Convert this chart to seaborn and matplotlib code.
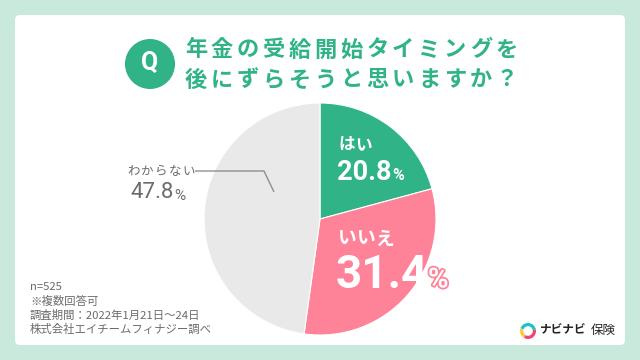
import matplotlib
matplotlib.use("Agg")
import matplotlib.pyplot as plt
from matplotlib import patheffects as pe
from matplotlib.patches import Circle, FancyBboxPatch, Wedge
import seaborn as sns

# === data ===
LABELS = ["はい", "いいえ", "わからない"]
VALUES = [20.8, 31.4, 47.8]
TITLE_LINES = ["年金の受給開始タイミングを", "後にずらそうと思いますか？"]
NOTES = ["n=525", "※複数回答可", "調査期間：2022年1月21日～24日", "株式会社エイチームフィナジー調べ"]
BRAND = "ナビナビ"
BRAND_SUB = "保険"

# === colours ===
GREEN = "#2fb387"
PINK = "#fe8398"
GREY = "#e9e9e9"
BG = "#c9e9dd"
TEXT_GREY = "#6b6b6b"
W, H = 640, 360

sns.set_theme(style="white")
plt.rcParams['font.family'] = ['Noto Sans CJK JP', 'DejaVu Sans']


def spaced(ax, x, y, s, pitch, **kw):
    # letter spaced text, one char at a time
    for i, c in enumerate(s):
        ax.text(x + i * pitch, y, c, ha="center", va="center", **kw)


fig = plt.figure(figsize=(W / 100, H / 100), dpi=100, facecolor=BG)

# pixel coordinate layer for card and texts
bg = fig.add_axes([0, 0, 1, 1], zorder=0)
bg.set_xlim(0, W)
bg.set_ylim(H, 0)
bg.axis("off")
bg.add_patch(FancyBboxPatch((20, 20), 600, 320, boxstyle="round,pad=5,rounding_size=5",
                            fc="white", ec="none"))

# pie
pie_ax = fig.add_axes([204 / W, 1 - 335 / H, 232 / W, 232 / H], zorder=1)
palette = sns.color_palette([GREEN, PINK, GREY])
pie_ax.pie(VALUES, colors=palette, startangle=90, counterclock=False, radius=1.0,
           wedgeprops={"edgecolor": "white", "linewidth": 0.8})
pie_ax.set_xlim(-1, 1)
pie_ax.set_ylim(-1, 1)

# text layer on top
ax = fig.add_axes([0, 0, 1, 1], zorder=2)
ax.set_xlim(0, W)
ax.set_ylim(H, 0)
ax.axis("off")
ax.patch.set_alpha(0)

# title
ax.add_patch(Circle((150, 64), 25, fc=GREEN, ec="none"))
ax.text(150, 63, "Q", color="white", fontsize=18, fontweight="bold", ha="center", va="center",
        family="Roboto")
spaced(ax, 196, 50, TITLE_LINES[0], 25.9, color=GREEN, fontsize=16, fontweight="bold")
spaced(ax, 196, 80, TITLE_LINES[1], 25.9, color=GREEN, fontsize=16, fontweight="bold")

# slice labels
spaced(ax, 347, 145, LABELS[0], 17, color="white", fontsize=12, fontweight="bold")
ax.text(337, 172, f"{VALUES[0]}", color="white", fontsize=19.5, fontweight="bold", va="center",
        ha="left", family="Roboto")
ax.text(392, 175, "%", color="white", fontsize=11.5, fontweight="bold", va="center", ha="left",
        family="Roboto")

spaced(ax, 346, 239, LABELS[1], 19, color="white", fontsize=13.5, fontweight="bold")
ax.text(336, 275, f"{VALUES[1]}", color="white", fontsize=33, fontweight="bold", va="center",
        ha="left", family="Roboto")
pct = ax.text(428, 280, "%", color="white", fontsize=20, fontweight="bold", va="center",
              ha="left", family="Roboto")
pct.set_path_effects([pe.withStroke(linewidth=2.5, foreground=PINK)])

spaced(ax, 134, 171, LABELS[2], 13.6, color=TEXT_GREY, fontsize=9)
ax.text(130, 193, f"{VALUES[2]}", color=TEXT_GREY, fontsize=16, va="center", ha="left", family="Roboto")
ax.text(174, 196, "%", color=TEXT_GREY, fontsize=11, va="center", ha="left", family="Roboto")
ax.plot([195, 264, 274], [171, 171, 192], color="#8f8f8f", lw=1.0, solid_capstyle="butt")

# notes
for line, y in zip(NOTES, [287, 301, 315, 329]):
    ax.text(30, y, line, color=TEXT_GREY, fontsize=8.2, va="center", ha="left")

# logo
logo_c = (528, 331)
ax.add_patch(Wedge(logo_c, 8, 200, 350, width=3.2, fc="#19c3c9", ec="none"))
ax.add_patch(Wedge(logo_c, 8, 120, 200, width=3.2, fc="#ffc83d", ec="none"))
ax.add_patch(Wedge(logo_c, 8, 350, 480, width=3.2, fc="#f0456f", ec="none"))
ax.text(540, 330, BRAND, color="#222222", fontsize=8.4, fontweight="bold", va="center", ha="left")
ax.text(591, 330, BRAND_SUB, color="#222222", fontsize=9, va="center", ha="left")

fig.savefig("out.png", dpi=100, facecolor=BG)
